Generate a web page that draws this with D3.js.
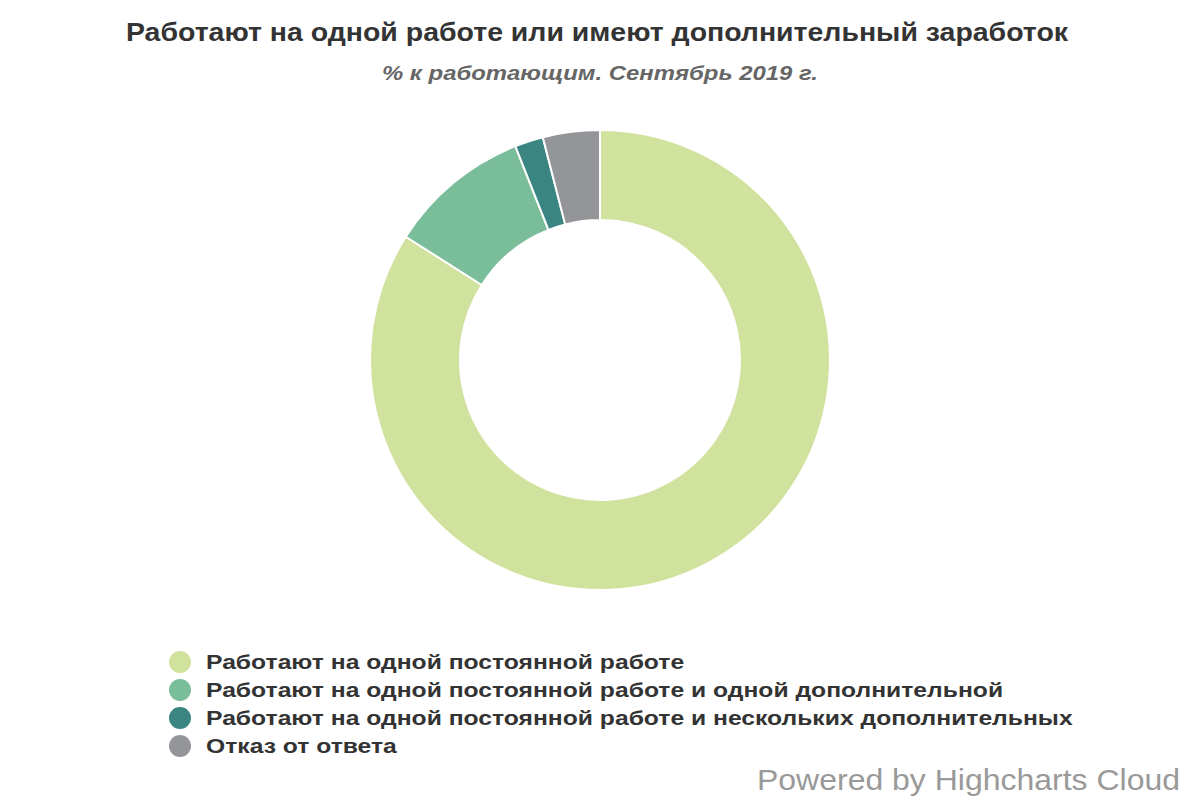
<!DOCTYPE html>
<html><head><meta charset="utf-8">
<script src="https://cdn.jsdelivr.net/npm/d3@7"></script>
<style>body{margin:0;background:#fff}text{font-family:"Liberation Sans",Arial,sans-serif}</style>
</head><body><svg id="c" width="1200" height="800"></svg>
<script>
const categories = ["Работают на одной постоянной работе","Работают на одной постоянной работе и одной дополнительной","Работают на одной постоянной работе и нескольких дополнительных","Отказ от ответа"];
const values = [84, 10, 2, 4];
const colors = ["#d0e29d","#7abd9a","#3a8582","#939598"];
const svg = d3.select("#c");
function fit(t, w){ const n=t.node(); const cur=n.getComputedTextLength(); if(cur>0) t.attr("textLength",w).attr("lengthAdjust","spacingAndGlyphs"); return t; }
fit(svg.append("text").attr("x",597).attr("y",41).attr("text-anchor","middle").attr("font-size",25).attr("font-weight","bold").attr("fill","#333").text("Работают на одной работе или имеют дополнительный заработок"),942);
fit(svg.append("text").attr("x",600).attr("y",80).attr("text-anchor","middle").attr("font-size",20).attr("font-weight","bold").attr("font-style","italic").attr("fill","#666").text("% к работающим. Сентябрь 2019 г."),436);
const pie = d3.pie().sort(null)(values);
const arc = d3.arc().innerRadius(140).outerRadius(230);
const g = svg.append("g").attr("transform","translate(600,360)");
g.selectAll("path").data(pie).join("path").attr("d",arc).attr("fill",(d,i)=>colors[i]).attr("stroke","#fff").attr("stroke-width",2);
const lg = svg.append("g");
const scale = 797/646;
categories.forEach((c,i)=>{
  const y = 662 + i*28;
  lg.append("circle").attr("cx",180).attr("cy",y).attr("r",11).attr("fill",colors[i]);
  const t = lg.append("text").attr("x",206).attr("y",y+7).attr("font-size",21).attr("font-weight","bold").attr("fill","#333").text(c);
  const len = t.node().getComputedTextLength();
  t.attr("font-size",20);
  const l20 = t.node().getComputedTextLength();
  t.attr("font-size",21);
  t.attr("textLength", l20*scale).attr("lengthAdjust","spacingAndGlyphs");
});
fit(svg.append("text").attr("x",1180).attr("y",790).attr("text-anchor","end").attr("font-size",29).attr("fill","#999").text("Powered by Highcharts Cloud"),423);
</script></body></html>
